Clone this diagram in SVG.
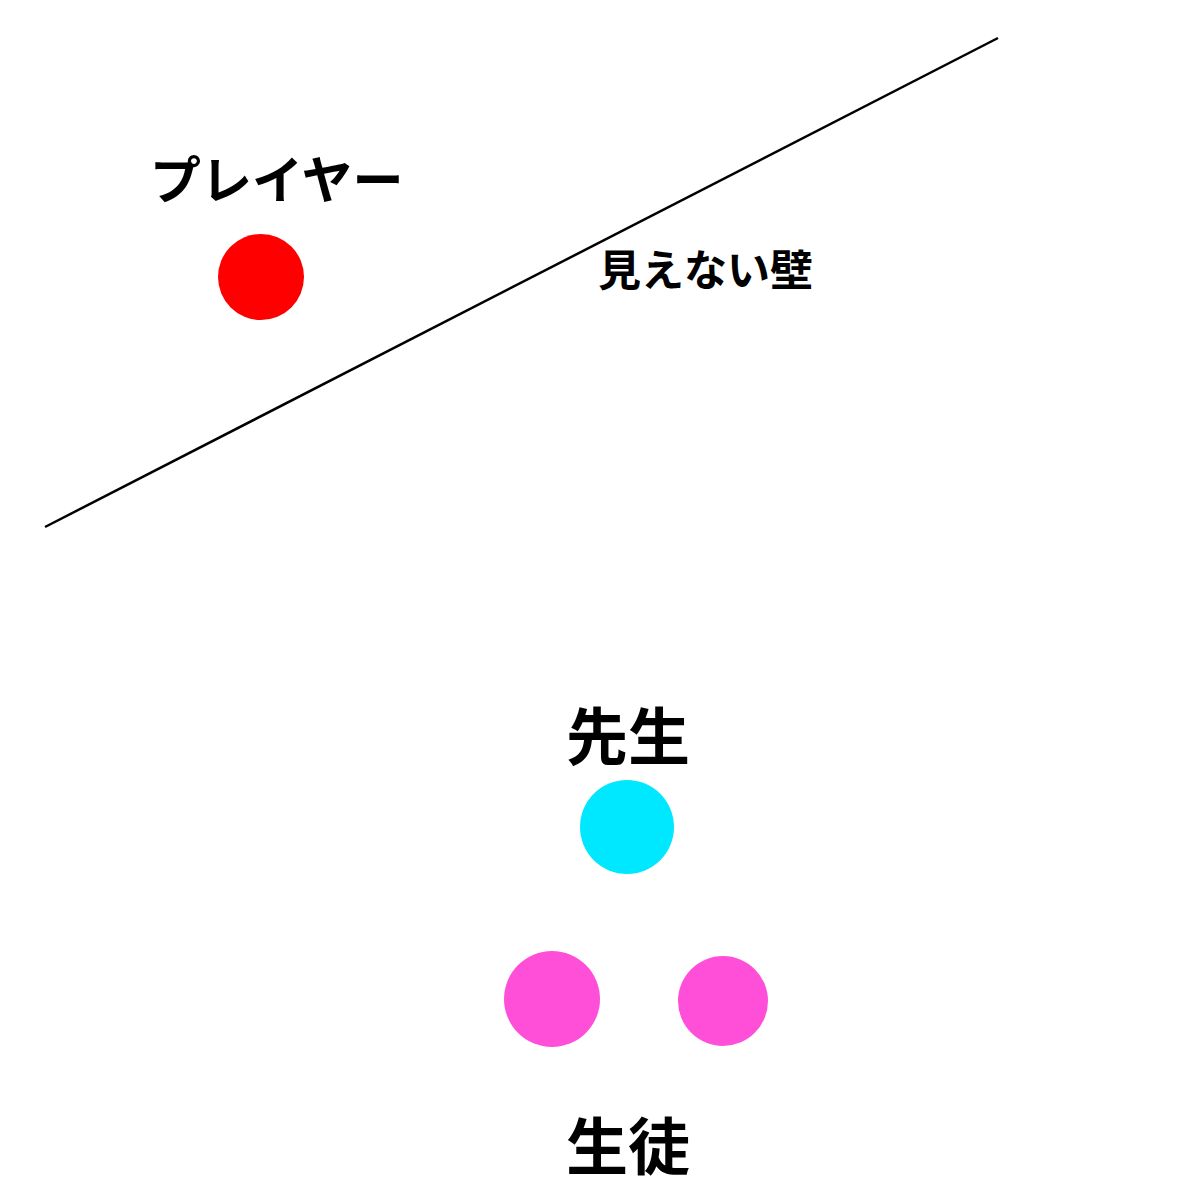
<svg xmlns="http://www.w3.org/2000/svg" width="1200" height="1200" viewBox="0 0 1200 1200">
<style>
.t{font-family:"Noto Sans CJK JP","Noto Sans",sans-serif;font-weight:bold;fill:#000}
</style>
<rect width="1200" height="1200" fill="#fff"/>
<g id="wall">
<line x1="45" y1="527" x2="998" y2="38" stroke="#000" stroke-width="2.5"/>
<text class="t" x="598" y="286" font-size="43">見えない壁</text>
</g>
<g id="player">
<text class="t" x="150" y="199" font-size="51">プレイヤー</text>
<circle cx="261" cy="277" r="43" fill="#ff0000"/>
</g>
<g id="teacher">
<text class="t" x="566" y="760" font-size="62">先生</text>
<circle cx="627" cy="827" r="47" fill="#00e8ff"/>
</g>
<g id="students">
<circle cx="552" cy="999" r="48" fill="#ff4fd8"/>
<circle cx="723" cy="1001" r="45" fill="#ff4fd8"/>
<text class="t" x="566" y="1170" font-size="62">生徒</text>
</g>
</svg>
